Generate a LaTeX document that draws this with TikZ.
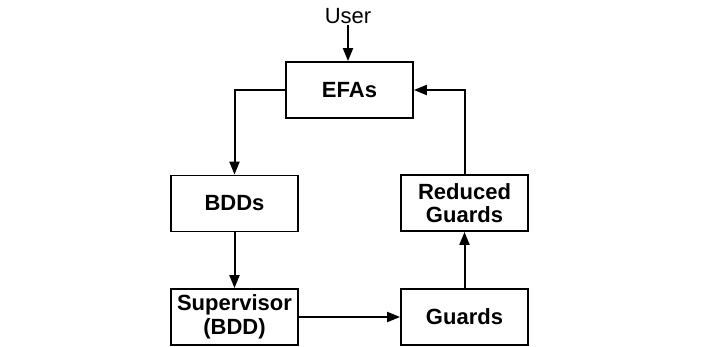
\documentclass[tikz,border=0pt]{standalone}
\usepackage{fontspec}
\setmainfont{Liberation Sans}
\usetikzlibrary{arrows.meta}
\begin{document}
\begin{tikzpicture}[x=1pt,y=-1pt,
  box/.style={draw=black,line width=1.8pt,minimum width=127pt,minimum height=56pt,inner sep=0pt,align=center,font=\fontsize{22}{23.5}\selectfont\bfseries},
  conn/.style={line width=2pt,-{Triangle[length=13pt,width=10pt]}}]
\useasboundingbox (0,0) rectangle (702,346);
\node[font=\fontsize{22}{23.5}\selectfont,inner sep=1.5pt] (user) at (348,16) {User};
\node[box] (efa) at (349.5,90) {EFAs};
\node[box] (bdd) at (234.5,203.5) {BDDs};
\node[box] (red) at (464.5,203) {Reduced\\Guards};
\node[box] (sup) at (234.5,317) {Supervisor\\(BDD)};
\node[box] (grd) at (464.5,317) {Guards};
\draw[conn] (user.south) -- (user.south |- efa.north);
\draw[conn] (efa.west) -| (bdd.north);
\draw[conn] (bdd.south) -- (sup.north);
\draw[conn] (sup.east) -- (grd.west);
\draw[conn] (grd.north) -- (red.south);
\draw[conn] (red.north) |- (efa.east);
\end{tikzpicture}
\end{document}
